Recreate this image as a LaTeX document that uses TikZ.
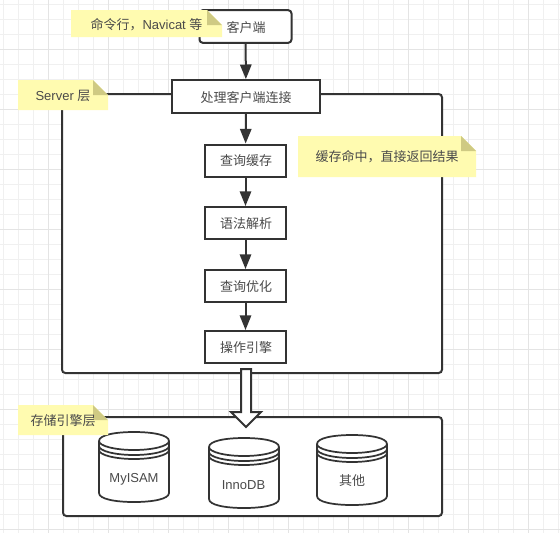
\documentclass[tikz,border=0pt]{standalone}
\usepackage{fontspec}
\setmainfont{Liberation Sans}
\newfontfamily\cjk{Noto Sans CJK SC}
\usetikzlibrary{arrows.meta}
\definecolor{ink}{HTML}{333333}
\definecolor{txt}{HTML}{4A4A4A}
\definecolor{notefill}{HTML}{FFFBB0}
\definecolor{foldfill}{HTML}{CFCA83}
\definecolor{gridmin}{HTML}{F0F0F0}
\definecolor{gridmaj}{HTML}{E4E4E4}
\tikzset{
  x=0.75pt,y=-0.75pt,
  container/.style={draw=ink,line width=1.5pt,fill=white,rounded corners=2.5pt},
  stepbox/.style={draw=ink,line width=1.5pt,fill=white,inner sep=0pt,text=txt,font=\cjk\fontsize{9.75pt}{12pt}\selectfont},
  steplabel/.style={text=txt,inner sep=0pt,font=\cjk\fontsize{9.75pt}{12pt}\selectfont},
  flow/.style={draw=ink,line width=1.5pt,-{Triangle[length=11pt,width=8.5pt]}},
  notebody/.style={fill=notefill},
  notefold/.style={fill=foldfill},
  notetext/.style={text=txt,inner sep=0pt,font=\fontsize{9.75pt}{12pt}\selectfont},
  cyl/.style={draw=ink,line width=1.3pt,fill=white},
  cyltext/.style={text=txt,inner sep=0pt,font=\fontsize{9.75pt}{12pt}\selectfont},
}
\newcommand{\stickynote}[4]{% x1,y1,x2,y2
  \fill[notebody] (#1,#2) -- ({#3-15},#2) -- (#3,{#2+15}) -- (#3,#4) -- (#1,#4) -- cycle;
  \fill[notefold] ({#3-15},#2) -- (#3,{#2+15}) -- ({#3-15},{#2+15}) -- cycle;
}
\newcommand{\dbcyl}[2]{% left x, top y
  \path[cyl] (#1,{#2+9}) .. controls (#1,{#2+3}) and ({#1+16},#2) .. ({#1+35},#2)
     .. controls ({#1+54},#2) and ({#1+70},{#2+3}) .. ({#1+70},{#2+9})
     -- ({#1+70},{#2+61}) .. controls ({#1+70},{#2+67}) and ({#1+54},{#2+70}) .. ({#1+35},{#2+70})
     .. controls ({#1+16},{#2+70}) and (#1,{#2+67}) .. (#1,{#2+61}) -- cycle;
  \foreach \dy in {9,14,18}{
    \draw[cyl,fill=none] (#1,{#2+\dy}) .. controls (#1,{#2+\dy+5}) and ({#1+16},{#2+\dy+9}) .. ({#1+35},{#2+\dy+9})
      .. controls ({#1+54},{#2+\dy+9}) and ({#1+70},{#2+\dy+5}) .. ({#1+70},{#2+\dy});
  }
}
\begin{document}
\begin{tikzpicture}
\useasboundingbox (0,0) rectangle (560,533);
\fill[white] (0,0) rectangle (560,533);
\foreach \i in {0,...,37}{\draw[gridmin,line width=0.75pt] ({3+15*\i},0) -- ({3+15*\i},533);}
\foreach \i in {0,...,35}{\draw[gridmin,line width=0.75pt] (0,{4+15*\i}) -- (560,{4+15*\i});}
\foreach \i in {0,...,8}{\draw[gridmaj,line width=0.75pt] ({48+60*\i},0) -- ({48+60*\i},533);}
\foreach \i in {0,...,8}{\draw[gridmaj,line width=0.75pt] (0,{49+60*\i}) -- (560,{49+60*\i});}

% containers
\path[container] (62,94) rectangle (442,373);
\path[container] (63,417) rectangle (442,516);

% client and steps
\node[stepbox,rounded corners=2.5pt,minimum width=69pt,minimum height=24.5pt] (client) at (245.5,26.5) {};
\node[steplabel] (clientlabel) at (246,28) {客户端};
\node[stepbox,minimum width=111pt,minimum height=24.5pt] (conn) at (246,96.5) {};
\node[steplabel] (connlabel) at (246,97.5) {处理客户端连接};
\node[stepbox,minimum width=60.5pt,minimum height=24pt] (cache) at (245.5,160.5) {};
\node[steplabel] (cachelabel) at (246,161) {查询缓存};
\node[stepbox,minimum width=60.5pt,minimum height=24pt] (parse) at (245.5,223) {};
\node[steplabel] (parselabel) at (246,224) {语法解析};
\node[stepbox,minimum width=60.5pt,minimum height=24pt] (optim) at (245.5,286) {};
\node[steplabel] (optimlabel) at (246,287) {查询优化};
\node[stepbox,minimum width=60.5pt,minimum height=24pt] (engine) at (245.5,347) {};
\node[steplabel] (enginelabel) at (246,348) {操作引擎};

\draw[flow] (client) -- (conn);
\draw[flow] (conn) -- (cache);
\draw[flow] (cache) -- (parse);
\draw[flow] (parse) -- (optim);
\draw[flow] (optim) -- (engine);

% big arrow
\draw[draw=ink,line width=1.5pt,fill=white,line join=miter] (241,369) -- (251,369) -- (251,412) -- (261,412) -- (246,427) -- (231,412) -- (241,412) -- cycle;

% cylinders
\dbcyl{99}{432}
\node[cyltext] (myisam) at (134,479) {MyISAM};
\dbcyl{209}{438}
\node[cyltext] (innodb) at (243.5,485) {InnoDB};
\dbcyl{317}{435}
\node[steplabel] (other) at (352,481) {其他};

% notes
\stickynote{71}{10}{222}{37}
\node[notetext] (n1) at (146.5,25) {{\cjk 命令行，}Navicat {\cjk 等}};
\stickynote{18}{80}{108}{110}
\node[notetext] (n2) at (63,96) {Server {\cjk 层}};
\stickynote{298}{136}{476}{177}
\node[steplabel] (n3) at (387,157) {缓存命中，直接返回结果};
\stickynote{18}{405}{108}{435}
\node[steplabel] (n4) at (63,421) {存储引擎层};
\end{tikzpicture}
\end{document}
